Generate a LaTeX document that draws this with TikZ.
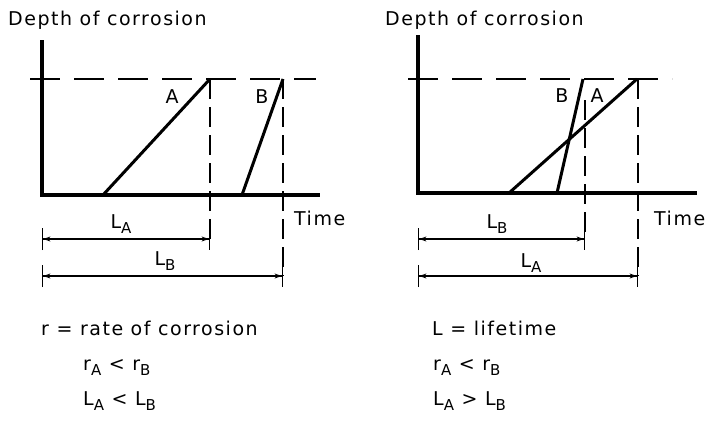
\documentclass[tikz,border=0pt]{standalone}
\usepackage{fontspec}
\setmainfont[LetterSpace=8]{DejaVu Sans}
\usetikzlibrary{arrows.meta}
\newcommand{\mysub}[1]{\raisebox{-5pt}{\fontsize{15}{15}\selectfont #1}}
\begin{document}
\begin{tikzpicture}[x=1pt,y=1pt,
  font=\fontsize{19}{21}\selectfont,
  axis/.style={line width=3.2pt, line join=miter},
  curve/.style={line width=3pt},
  hdash/.style={line width=1.8pt, dash pattern=on 30pt off 14pt},
  vdash/.style={line width=1.8pt, dash pattern=on 20pt off 8pt},
  dim/.style={line width=1.4pt, {Bar[width=22pt,line width=1.4pt]Stealth[length=7pt,width=5pt]}-{Stealth[length=7pt,width=5pt]Bar[width=22pt,line width=1.4pt]}},
  txt/.style={inner sep=0pt}]
\useasboundingbox (0,0) rectangle (705,-423);
% ---------- left panel ----------
\coordinate (O1) at (42,-195);
\coordinate (Y1) at (42,-40);
\coordinate (X1) at (320,-195);
\coordinate (H1s) at (30,-79);
\coordinate (H1e) at (316,-79);
\coordinate (A1s) at (103,-195);
\coordinate (A1e) at (210,-79);
\coordinate (B1s) at (242,-195);
\coordinate (B1e) at (283,-79);
\coordinate (LA1l) at (42,-239);
\coordinate (LA1r) at (210,-239);
\coordinate (LB1l) at (42,-276);
\coordinate (LB1r) at (283,-276);
\draw[axis] (Y1) -- (O1) -- (X1);
\draw[hdash] (H1s) -- (H1e);
\draw[curve] (A1s) -- (A1e);
\draw[curve] (B1s) -- (B1e);
\draw[vdash] (A1e) -- (LA1r);
\draw[vdash] (B1e) -- (LB1r);
\draw[dim] (LA1l) -- (LA1r);
\draw[dim] (LB1l) -- (LB1r);
\node[txt, anchor=base west] (D1) at (8,-25) {Depth of corrosion};
\node[txt, anchor=base] (A1t) at (172,-103) {A};
\node[txt, anchor=base] (B1t) at (262,-103) {B};
\node[txt, anchor=base west] (T1) at (294,-225) {Time};
\node[txt, anchor=base] (LA1t) at (121,-228) {L\mysub{A}};
\node[txt, anchor=base] (LB1t) at (165,-265) {L\mysub{B}};
\node[txt, anchor=base west] (R1) at (41,-335) {r = rate of corrosion};
\node[txt, anchor=base west] (R1a) at (83,-370) {r\mysub{A} < r\mysub{B}};
\node[txt, anchor=base west] (R1b) at (83,-405) {L\mysub{A} < L\mysub{B}};
% ---------- right panel ----------
\coordinate (O2) at (418,-193);
\coordinate (Y2) at (418,-35);
\coordinate (X2) at (697,-193);
\coordinate (H2s) at (408,-79);
\coordinate (H2e) at (672,-79);
\coordinate (A2s) at (509,-193);
\coordinate (A2e) at (637,-79);
\coordinate (B2s) at (557,-193);
\coordinate (B2e) at (583,-79);
\coordinate (V2s) at (585,-100);
\coordinate (LB2l) at (418,-239);
\coordinate (LB2r) at (585,-239);
\coordinate (LA2l) at (418,-276);
\coordinate (LA2r) at (638,-276);
\coordinate (V3s) at (638,-79);
\draw[axis] (Y2) -- (O2) -- (X2);
\draw[hdash] (H2s) -- (H2e);
\draw[curve] (A2s) -- (A2e);
\draw[curve] (B2s) -- (B2e);
\draw[vdash] (V2s) -- (LB2r);
\draw[vdash] (V3s) -- (LA2r);
\draw[dim] (LB2l) -- (LB2r);
\draw[dim] (LA2l) -- (LA2r);
\node[txt, anchor=base west] (D2) at (385,-25) {Depth of corrosion};
\node[txt, anchor=base] (B2t) at (562,-102) {B};
\node[txt, anchor=base] (A2t) at (597,-102) {A};
\node[txt, anchor=base west] (T2) at (654,-225) {Time};
\node[txt, anchor=base] (LB2t) at (497,-228) {L\mysub{B}};
\node[txt, anchor=base] (LA2t) at (531,-267) {L\mysub{A}};
\node[txt, anchor=base west] (R2) at (432,-335) {L = lifetime};
\node[txt, anchor=base west] (R2a) at (433,-370) {r\mysub{A} < r\mysub{B}};
\node[txt, anchor=base west] (R2b) at (433,-405) {L\mysub{A} > L\mysub{B}};
\end{tikzpicture}
\end{document}
